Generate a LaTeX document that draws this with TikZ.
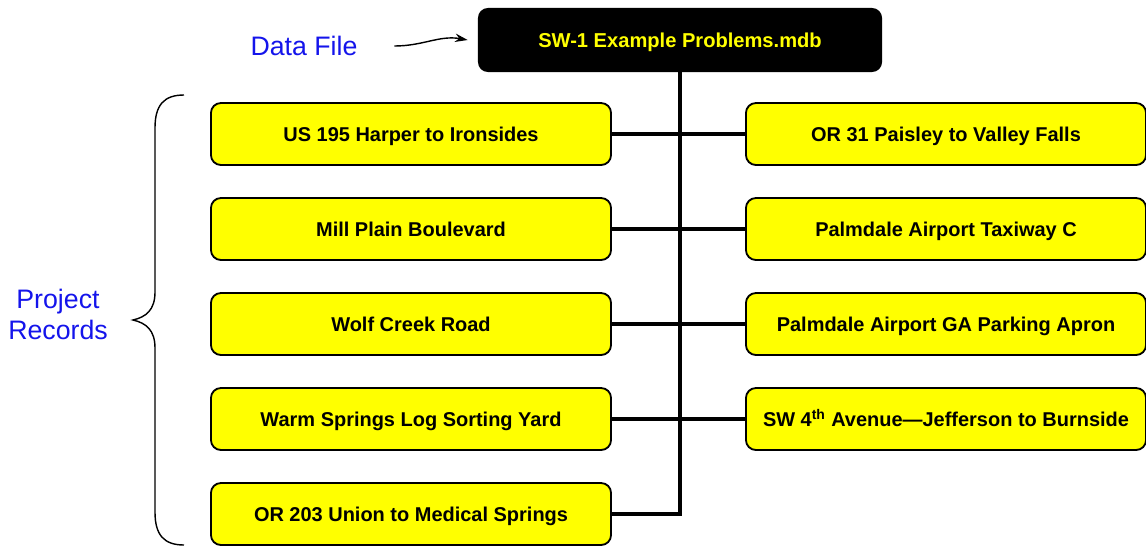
\documentclass[tikz,border=0pt]{standalone}
\usepackage{fontspec}
\setmainfont{Liberation Sans}
\usetikzlibrary{arrows.meta}
\definecolor{recyellow}{RGB}{255,255,0}
\definecolor{labelblue}{RGB}{20,20,235}
\begin{document}
\begin{tikzpicture}[x=0.025cm, y=-0.025cm,
    recbox/.style={draw=black, line width=1.3pt, fill=recyellow, rounded corners=0.25cm,
      minimum width=10cm, minimum height=1.55cm, text height=2.1ex, text depth=0.1ex,
      font=\fontsize{14.2}{16}\selectfont\bfseries},
    filebox/.style={fill=black, text=recyellow, rounded corners=0.25cm,
      minimum width=10.1cm, minimum height=1.6cm, text height=2.1ex, text depth=0.1ex,
      font=\fontsize{14.3}{16}\selectfont\bfseries},
    trunk/.style={line width=3.5pt},
    bluelabel/.style={text=labelblue, font=\fontsize{19}{22}\selectfont, align=center}]
  \useasboundingbox (0,0) rectangle (1146,548);

  % data file
  \node[filebox] (file) at (680,40) {SW-1 Example Problems.mdb};
  \node[bluelabel] (datafile) at (304,46) {Data File};
  \draw[-{Stealth[length=9pt,width=6pt]}, line width=1pt] ([xshift=0.8cm]datafile.east) to[out=0,in=170] ([xshift=-0.25cm]file.west);

  % project records, left column
  \node[recbox] (l1) at (411,134) {US 195 Harper to Ironsides};
  \node[recbox] (l2) at (411,229) {Mill Plain Boulevard};
  \node[recbox] (l3) at (411,324) {Wolf Creek Road};
  \node[recbox] (l4) at (411,419) {Warm Springs Log Sorting Yard};
  \node[recbox] (l5) at (411,514) {OR 203 Union to Medical Springs};
  % right column
  \node[recbox] (r1) at (946,134) {OR 31 Paisley to Valley Falls};
  \node[recbox] (r2) at (946,229) {Palmdale Airport Taxiway C};
  \node[recbox] (r3) at (946,324) {Palmdale Airport GA Parking Apron};
  \node[recbox] (r4) at (946,419) {SW 4\textsuperscript{th} Avenue—Jefferson to Burnside};

  % tree lines
  \coordinate (tbot) at (680,514);
  \draw[trunk] (file.south) -- (tbot) -- (l5.east);
  \foreach \i in {1,...,4}
    \draw[trunk] (l\i.east) -- (r\i.west);

  % brace
  \draw[line width=1pt] (184,95) .. controls (164,95) and (155,105) .. (155,128) -- (155,292)
    .. controls (155,310) and (146,317) .. (133,320)
    .. controls (146,323) and (155,330) .. (155,348) -- (155,512)
    .. controls (155,535) and (164,545) .. (184,545);
  \node[bluelabel] (records) at (58,314) {Project\\Records};
\end{tikzpicture}
\end{document}
